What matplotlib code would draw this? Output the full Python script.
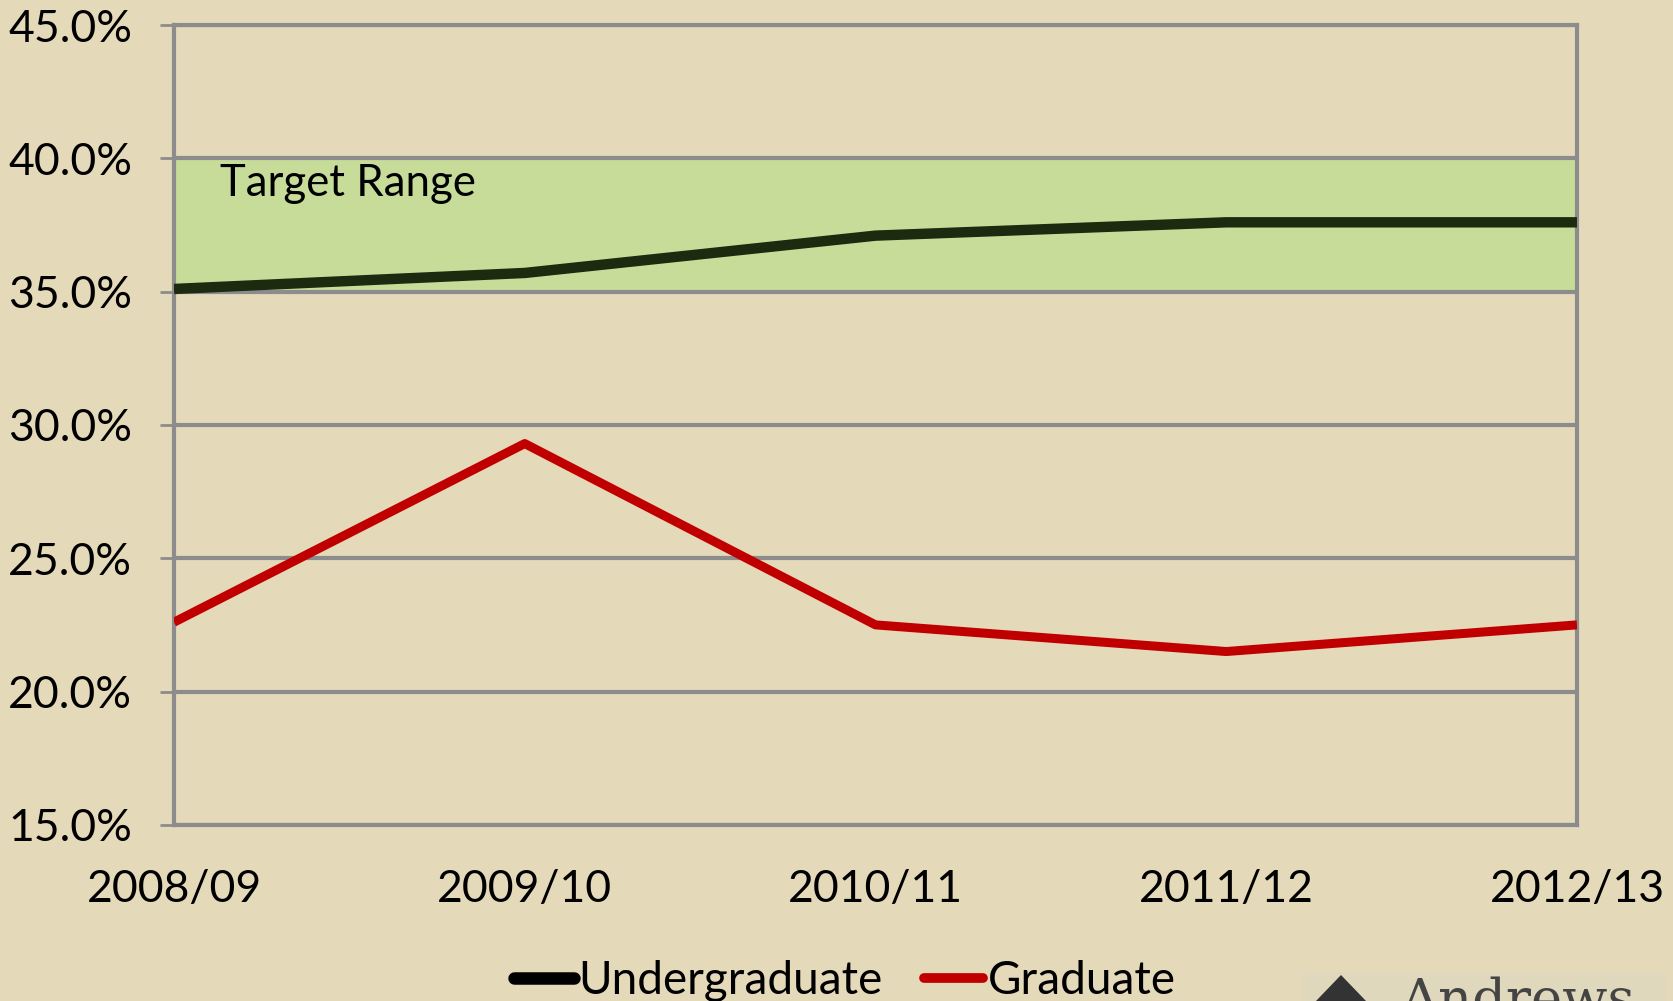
import matplotlib
matplotlib.use("Agg")
import matplotlib.pyplot as plt
from matplotlib.lines import Line2D
from matplotlib.patches import Rectangle, Polygon
from matplotlib.ticker import FuncFormatter, MultipleLocator

years = ["2008/09", "2009/10", "2010/11", "2011/12", "2012/13"]
undergraduate = [35.1, 35.7, 37.1, 37.6, 37.6]
graduate = [22.6, 29.3, 22.5, 21.5, 22.5]
target_low, target_high = 35.0, 40.0

plt.rcParams['font.family'] = ['Lato', 'DejaVu Sans']
bg = '#e4d9b9'
fig = plt.figure(figsize=(16.73, 10.01), dpi=100, facecolor=bg)
ax = fig.add_axes([0.104, 0.176, 0.8386, 0.799])
ax.set_facecolor(bg)

x = list(range(len(years)))
ax.set_xlim(0, len(years) - 1)
ax.set_ylim(15, 45)
ax.yaxis.set_major_locator(MultipleLocator(5))
ax.yaxis.set_major_formatter(FuncFormatter(lambda v, p: f"{v:.1f}%"))
ax.set_xticks(x)
ax.set_xticklabels(years)

grid_c = '#8c8c8c'
ax.grid(axis='y', color=grid_c, linewidth=3, zorder=1)
for s in ax.spines.values():
    s.set_color(grid_c)
    s.set_linewidth(3)

ax.axhspan(target_low, target_high, color='#c7dc98', zorder=0.5)
ax.text(0.13, 39.05, "Target Range", fontsize=31.5, va='center', ha='left', zorder=5)

ax.plot(x, undergraduate, color='#1c2a10', linewidth=7.5, zorder=4, solid_capstyle='butt')
ax.plot(x, graduate, color='#c00000', linewidth=6.5, zorder=4, solid_capstyle='butt')

ax.tick_params(axis='y', labelsize=32, length=10, width=2, color=grid_c, pad=20, direction='out')
ax.tick_params(axis='x', labelsize=32, length=0, pad=32)

handles = [Line2D([], [], color='black', linewidth=9, solid_capstyle='round'),
           Line2D([], [], color='#c00000', linewidth=7, solid_capstyle='round')]
fig.legend(handles, ["Undergraduate", "Graduate"], loc='center',
           bbox_to_anchor=(0.505, 0.02), ncol=2, frameon=False, fontsize=33,
           handlelength=1.3, handletextpad=0.1, columnspacing=0.9)

# logo block (bottom right, partially cut off)
fig.patches.append(Rectangle((1303 / 1673, 0), (1665 - 1303) / 1673, (1001 - 972) / 1001,
                             transform=fig.transFigure, facecolor='#e0d8bc', edgecolor='none', zorder=1))
fig.patches.append(Polygon([(1316 / 1673, 0), (1341 / 1673, 26 / 1001), (1366 / 1673, 0)],
                           closed=True, transform=fig.transFigure, facecolor='#333333',
                           edgecolor='none', zorder=2))
fig.text(1400 / 1673, -26 / 1001, "Andrews", fontsize=38, family='DejaVu Serif',
         color='#444444', ha='left', va='bottom')

fig.savefig("out.png", dpi=100, facecolor=bg)
